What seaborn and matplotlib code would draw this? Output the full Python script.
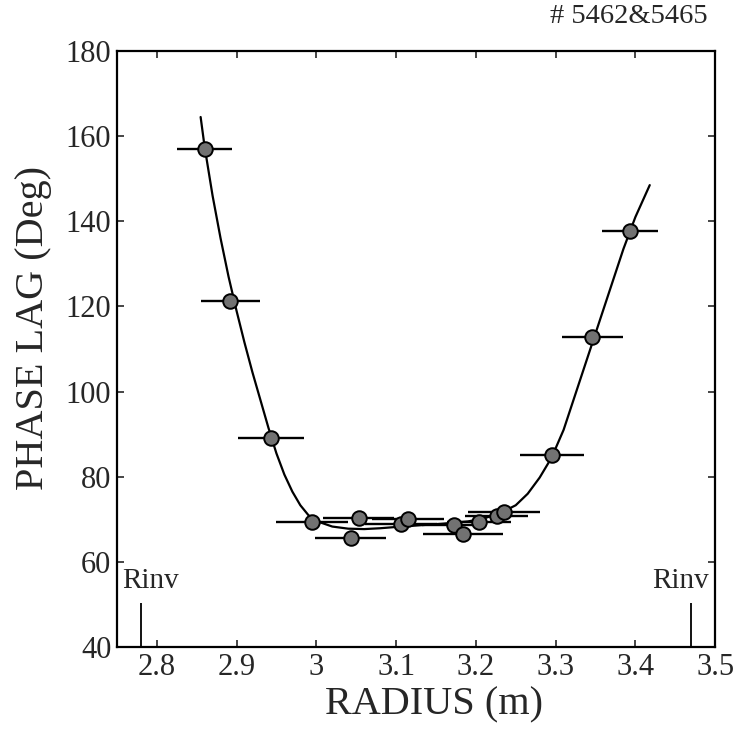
import numpy as np
import pandas as pd
import matplotlib
matplotlib.use("Agg")
import matplotlib.pyplot as plt
import seaborn as sns

# measured points (radius in m, phase lag in deg) and half width of the radial bar
radius = [2.860, 2.892, 2.943, 2.995, 3.043, 3.053, 3.106, 3.115,
          3.173, 3.184, 3.204, 3.226, 3.235, 3.295, 3.346, 3.393]
phase = [156.9, 121.3, 89.0, 69.4, 65.5, 70.2, 69.0, 70.0,
         68.6, 66.5, 69.4, 70.8, 71.8, 85.0, 112.8, 137.7]
radius_err = [0.034, 0.037, 0.041, 0.045, 0.045, 0.045, 0.045, 0.045,
              0.040, 0.050, 0.040, 0.040, 0.045, 0.040, 0.038, 0.035]

# fitted curve
curve_r = [2.855, 2.860, 2.870, 2.880, 2.890, 2.900, 2.910, 2.920, 2.930, 2.940,
           2.950, 2.960, 2.970, 2.980, 2.990, 3.000, 3.020, 3.040, 3.060, 3.080,
           3.100, 3.130, 3.160, 3.190, 3.210, 3.230, 3.250, 3.265, 3.280, 3.295,
           3.310, 3.325, 3.340, 3.355, 3.370, 3.385, 3.400, 3.418]
curve_phase = [164.5, 157.5, 146.0, 136.0, 127.0, 119.0, 111.5, 104.5, 98.0, 91.5,
               85.5, 80.5, 76.5, 73.3, 71.0, 69.6, 68.3, 67.8, 67.7, 67.9,
               68.2, 68.6, 69.0, 69.5, 70.2, 71.4, 73.3, 76.0, 79.8, 84.5,
               91.0, 99.5, 108.0, 116.5, 125.0, 133.5, 141.0, 148.5]

# inversion radii
r_inv = [2.78, 3.47]

x_ticks = [2.8, 2.9, 3.0, 3.1, 3.2, 3.3, 3.4, 3.5]
y_ticks = [40, 60, 80, 100, 120, 140, 160, 180]

points = pd.DataFrame({"radius": radius, "phase": phase, "err": radius_err})
curve = pd.DataFrame({"radius": curve_r, "phase": curve_phase})

sns.set_theme(style="ticks")
plt.rcParams["font.family"] = ["Liberation Serif", "DejaVu Serif"]

fig = plt.figure(figsize=(7.35, 7.34), dpi=100)
ax = fig.add_axes([0.159, 0.1185, 0.814, 0.812])

sns.lineplot(data=curve, x="radius", y="phase", ax=ax, color="black",
             linewidth=1.6, sort=False, zorder=2)
ax.hlines(points["phase"], points["radius"] - points["err"],
          points["radius"] + points["err"], color="black", linewidth=1.7, zorder=3)
sns.scatterplot(data=points, x="radius", y="phase", ax=ax, s=110,
                color="#727272", edgecolor="black", linewidth=1.4, zorder=4)

ax.vlines(r_inv, 40, 50.3, color="black", linewidth=1.3)
ax.text(2.7565, 53.8, "Rinv", fontsize=21, ha="left", va="baseline")
ax.text(3.492, 53.8, "Rinv", fontsize=21, ha="right", va="baseline")

ax.set_xlim(2.75, 3.5)
ax.set_ylim(40, 180)
ax.set_xticks(x_ticks)
ax.set_xticklabels(["{:g}".format(v) for v in x_ticks])
ax.set_yticks(y_ticks)
ax.tick_params(direction="in", length=5, width=1.2, labelsize=22,
               top=True, right=True, pad=4)
for s in ax.spines.values():
    s.set_linewidth(1.6)
    s.set_color("black")

ax.set_xlabel("RADIUS (m)", fontsize=29)
ax.set_ylabel("PHASE LAG (Deg)", fontsize=29)
ax.xaxis.set_label_coords(0.53, -0.066)
ax.yaxis.set_label_coords(-0.109, 0.535)
fig.text(0.963, 0.977, "# 5462&5465", fontsize=20.5, ha="right", va="center")

fig.savefig("out.png", dpi=100)
